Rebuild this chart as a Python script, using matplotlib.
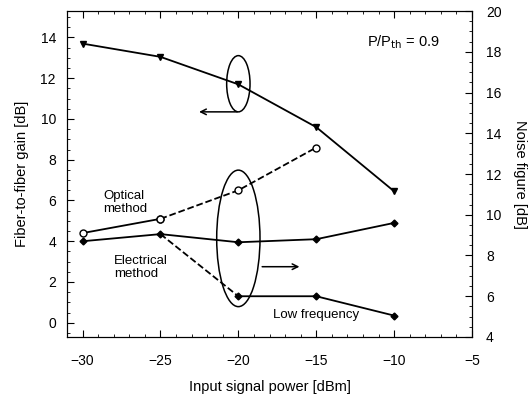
import numpy as np
import matplotlib.pyplot as plt
from matplotlib.patches import Ellipse
from matplotlib.ticker import MultipleLocator

plt.rcParams['font.family'] = ['Liberation Sans', 'DejaVu Sans']

# dados
power = [-30, -25, -20, -15, -10]
gain = [13.7, 13.05, 11.7, 9.6, 6.45]              # triangulos, eixo esquerdo
opt_solid_x = [-30, -25]
opt_solid = [9.1, 9.8]
opt_dash_x = [-25, -20, -15]
opt_dash = [9.8, 11.2, 13.3]
elec = [8.7, 9.05, 8.65, 8.8, 9.6]
low_dash_x = [-25, -20]
low_dash = [9.05, 6.0]
low_x = [-20, -15, -10]
low = [6.0, 6.0, 5.05]

fig = plt.figure(figsize=(5.3, 3.99), dpi=100)
ax = fig.add_axes([0.1264, 0.1554, 0.7642, 0.817])
ax2 = ax.twinx()

# curva de ganho
ax.plot(power, gain, 'k-', lw=1.3, marker='v', ms=5)

# figura de ruido
ax2.plot(opt_solid_x, opt_solid, 'k-', lw=1.3, marker='o', ms=5, mfc='white')
ax2.plot(opt_dash_x, opt_dash, 'k--', lw=1.3, marker='o', ms=5, mfc='white')
ax2.plot(power, elec, 'k-', lw=1.3, marker='D', ms=3.5)
ax2.plot(low_dash_x, low_dash, 'k--', lw=1.3)
ax2.plot(low_x, low, 'k-', lw=1.3, marker='D', ms=3.5)

ax.set_xlim(-31, -5)
ax.set_ylim(-0.7, 15.3)
ax2.set_ylim(4, 20)

ax.set_xticks([-30, -25, -20, -15, -10, -5])
ax.xaxis.set_minor_locator(MultipleLocator(1))
ax.set_yticks(range(0, 15, 2))
ax.yaxis.set_minor_locator(MultipleLocator(0.5))
ax2.set_yticks(range(4, 21, 2))
ax2.yaxis.set_minor_locator(MultipleLocator(0.5))

ax.tick_params(which='both', direction='in', top=True, labelsize=10, pad=8)
ax.tick_params(which='major', length=5)
ax.tick_params(which='minor', length=2.5)
ax.tick_params(axis='x', pad=12)
ax2.tick_params(which='both', direction='in', labelsize=10, pad=10)
ax2.tick_params(which='major', length=5)
ax2.tick_params(which='minor', length=2.5)

ax.set_xlabel('Input signal power [dBm]', fontsize=10.5, labelpad=9)
ax.set_ylabel('Fiber-to-fiber gain [dB]', fontsize=10.5, labelpad=8)
ax2.set_ylabel('Noise figure [dB]', fontsize=10.5, rotation=270, labelpad=18)

# elipses e setas
ax.add_patch(Ellipse((-20, 11.73), 1.5, 2.76, fill=False, ec='k', lw=1.1))
ax.annotate('', xy=(-22.7, 10.35), xytext=(-19.9, 10.35),
            arrowprops=dict(arrowstyle='->', color='k', lw=1.1))
ax2.add_patch(Ellipse((-20, 8.84), 2.78, 6.7, fill=False, ec='k', lw=1.1))
ax2.annotate('', xy=(-15.9, 7.45), xytext=(-18.65, 7.45),
             arrowprops=dict(arrowstyle='->', color='k', lw=1.1))

ax.text(-11.75, 13.75, r'P/P$_{\rm th}$ = 0.9', fontsize=10.5, va='center')
ax.text(-28.65, 5.9, 'Optical\nmethod', fontsize=9.5, ha='left', va='center',
        linespacing=1.1)
ax.text(-28.0, 2.7, 'Electrical\nmethod', fontsize=9.5, ha='left', va='center',
        linespacing=1.1)
ax.text(-17.75, 0.38, 'Low frequency', fontsize=9.5, va='center')

fig.savefig('out.png', dpi=100)
